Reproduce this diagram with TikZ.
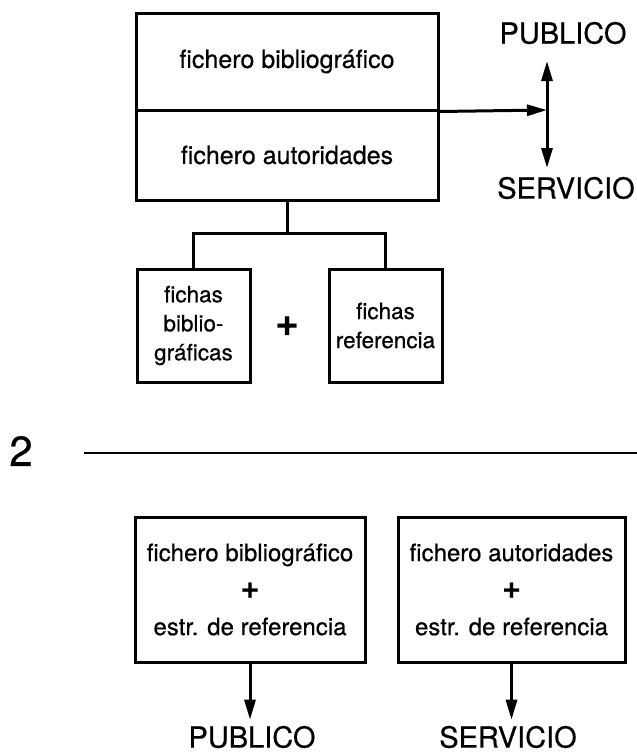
\documentclass[tikz,border=0pt]{standalone}
\usepackage{fontspec}
\setmainfont{TeX Gyre Heros}[FakeBold=0.5]
\usetikzlibrary{arrows.meta}
\begin{document}
\begin{tikzpicture}[x=1pt,y=1pt,
  box/.style={draw, line width=3pt, inner sep=0pt, align=center, line join=miter},
  lbl/.style={inner sep=0pt},
  ln/.style={line width=3pt, line join=miter},
  arr/.style={line width=3pt, -{Triangle[length=20pt,width=11pt]}},
  bigtxt/.style={font=\fontsize{29}{32}\selectfont},
  toptxt/.style={font=\fontsize{25}{30}\selectfont},
  smalltxt/.style={font=\fontsize{22.5}{29}\selectfont},
  bottxt/.style={font=\fontsize{24}{37}\selectfont}]
\useasboundingbox (0,0) rectangle (637,-755);

% top block
\node[box, toptxt, minimum width=302, minimum height=97] (bib) at (287,-61.5) {fichero bibliográfico};
\node[box, toptxt, minimum width=302, minimum height=90] (aut) at (287,-155) {fichero autoridades};

\node[lbl, bigtxt] (pub) at (563,-33) {PUBLICO};
\node[lbl, bigtxt] (ser) at (566,-188) {SERVICIO};
\coordinate (j) at (547,-110);
\coordinate (jt) at (547,-61);
\coordinate (jb) at (547,-168);
\draw[arr] (bib.south east) -- (j);
\draw[arr] (j) -- (jt);
\draw[arr] (j) -- (jb);

% branch
\node[box, smalltxt, minimum width=113, minimum height=113] (fb) at (193.5,-325.5) {fichas\\biblio-\\gráficas};
\node[box, smalltxt, minimum width=113, minimum height=113] (fr) at (385.5,-325.5) {fichas\\referencia};
\node[lbl, font=\fontsize{40}{40}\selectfont\bfseries] (plus) at (287,-326) {+};
\coordinate (br) at (287,-233);
\draw[ln] (aut.south) -- (br);
\draw[ln] (fb.north) |- (br) -| (fr.north);

% separator
\node[lbl, font=\fontsize{42}{42}\selectfont] (two) at (21,-451) {2};
\coordinate (ls) at (84,-453);
\coordinate (le) at (637,-453);
\draw[line width=2.4pt] (ls) -- (le);

% bottom blocks
\node[box, bottxt, minimum width=230, minimum height=145] (b1) at (250,-589.5) {fichero bibliográfico\\{\fontsize{32}{37}\selectfont\bfseries +}\\estr. de referencia};
\node[box, bottxt, minimum width=227, minimum height=145] (b2) at (511.5,-589.5) {fichero autoridades\\{\fontsize{32}{37}\selectfont\bfseries +}\\estr. de referencia};
\node[lbl, bigtxt] (p2) at (252,-737) {PUBLICO};
\node[lbl, bigtxt] (s2) at (508,-737) {SERVICIO};
\draw[arr, shorten >=6pt] (b1.south) -- (b1.south |- p2.north);
\draw[arr, shorten >=6pt] (b2.south) -- (b2.south |- s2.north);
\end{tikzpicture}
\end{document}
